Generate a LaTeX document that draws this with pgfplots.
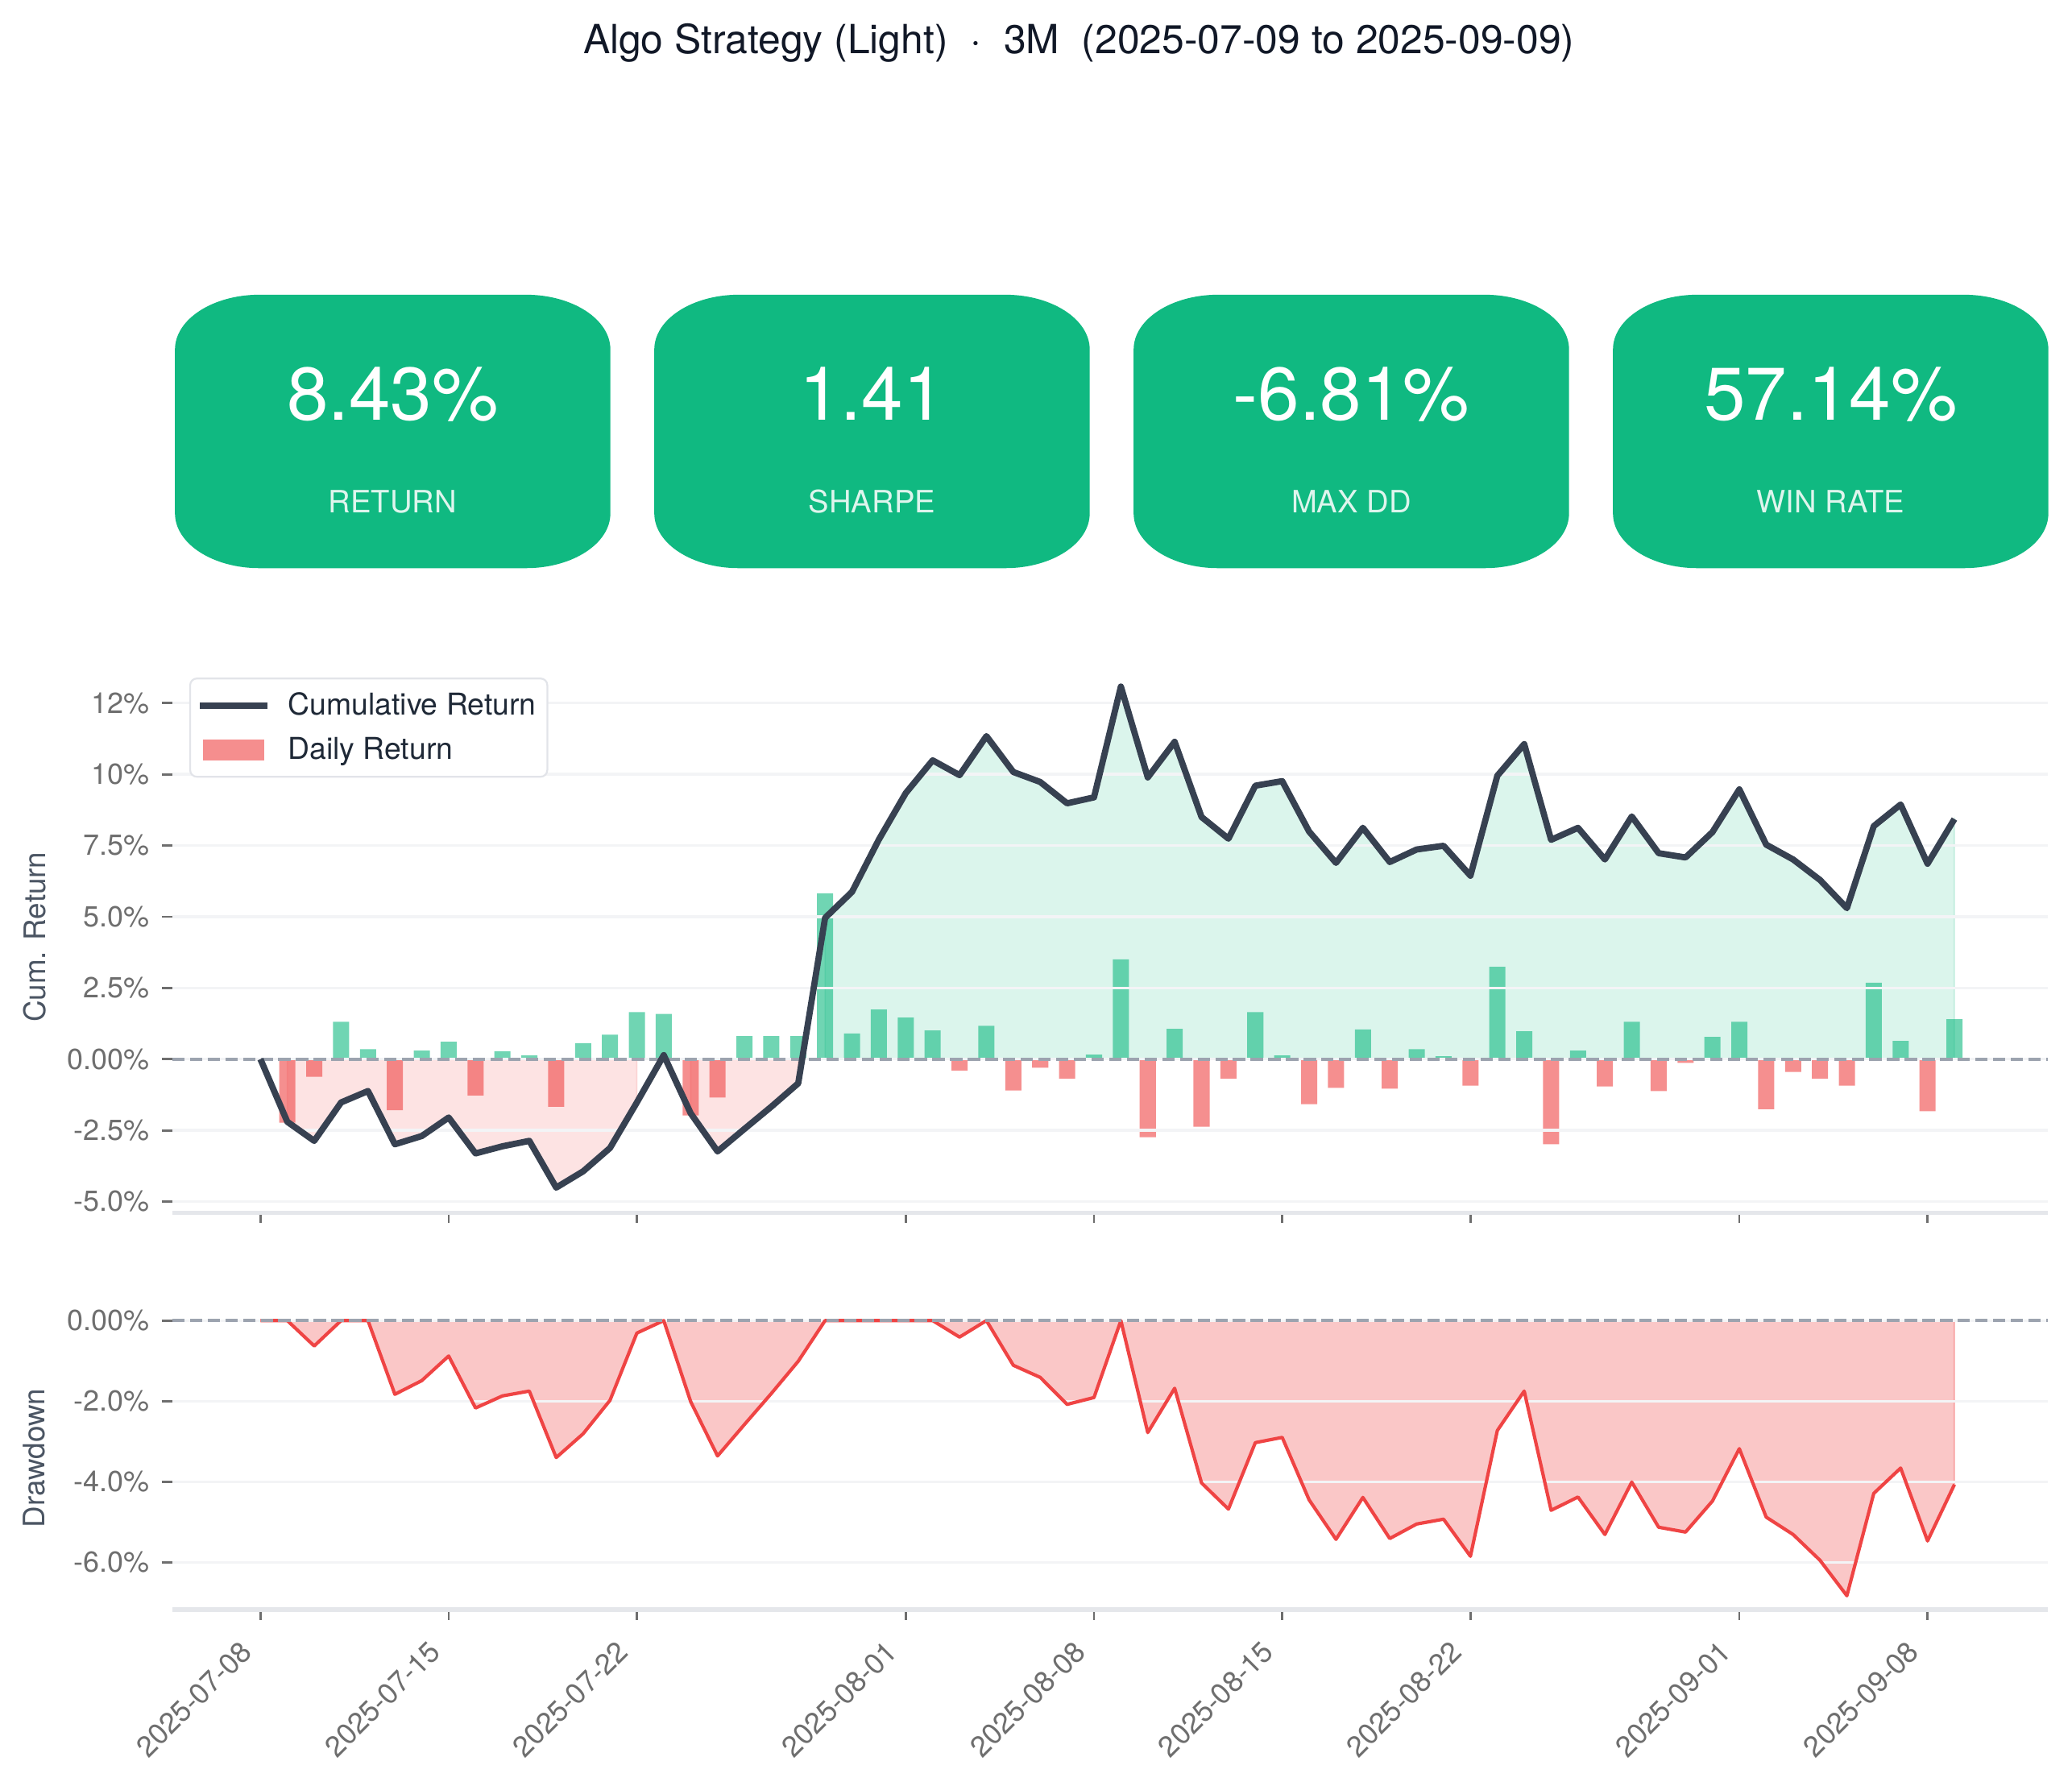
\documentclass[border=0pt]{standalone}
\usepackage{pgfplots}
\pgfplotsset{compat=1.18}
\usepackage{fontspec}
\setmainfont{TeX Gyre Heros}
\setsansfont{TeX Gyre Heros}

\definecolor{kpi}{RGB}{16,185,129}
\definecolor{linedark}{RGB}{55,65,81}
\definecolor{redc}{RGB}{239,68,68}
\definecolor{zeroc}{RGB}{156,163,175}
\definecolor{gridc}{RGB}{243,244,246}
\definecolor{spinec}{RGB}{229,231,235}
\definecolor{tickc}{RGB}{110,110,110}
\definecolor{labc}{RGB}{75,85,99}
\definecolor{titlec}{RGB}{17,24,39}
\definecolor{legtext}{RGB}{31,41,55}
\definecolor{legc}{RGB}{226,228,233}

\pgfplotsset{
  cumlegend/.style={legend image code/.code={\draw[linedark, line width=2.8bp, sharp corners] (0bp,0bp) -- (30bp,0bp);}},
  barlegend/.style={legend image code/.code={\fill[redc, fill opacity=0.6, draw=none, sharp corners] (1.4bp,-4.6bp) rectangle (28.6bp,4.6bp);}},
  commonaxis/.style={
    scale only axis, width=838.1bp,
    xmin=-3.28, xmax=66.47,
    axis line style={draw=none},
    xtick={0,7,14,24,31,38,45,55,62},
    xtick pos=left, ytick pos=left,
    tick align=outside,
    major tick length=4.7bp,
    tick style={draw=tickc, line width=1bp},
    ticklabel style={font=\fontsize{13}{15.6}\selectfont, text=tickc},
    yticklabel style={inner sep=0pt, xshift=-5.2bp},
    every axis y label/.style={at={(rel axis cs:-0.0735,0.5)}, anchor=center, rotate=90,
      font=\fontsize{13.3}{16}\selectfont, text=labc},
    no markers,
  },
}

\newcommand{\kpibox}[3]{%
  \begin{scope}[x=1bp,y=1bp]
  \pgfmathsetmacro{\La}{#1}
  \pgfmathsetmacro{\Lb}{#1+37.8}
  \pgfmathsetmacro{\Ra}{#1+194.58}
  \pgfmathsetmacro{\Rb}{#1+194.58-37.8}
  \fill[kpi] (\Lb,-131.7) -- (\Rb,-131.7)
    arc[start angle=90,end angle=0,x radius=37.8,y radius=24.5]
    -- (\Ra,-229.4)
    arc[start angle=0,end angle=-90,x radius=37.8,y radius=24.5]
    -- (\Lb,-253.9)
    arc[start angle=-90,end angle=-180,x radius=37.8,y radius=24.5]
    -- (\La,-156.2)
    arc[start angle=180,end angle=90,x radius=37.8,y radius=24.5]
    -- cycle;
  \pgfmathsetmacro{\Cx}{#1+97.29}
  \node[anchor=base, inner sep=0pt, text=white, font=\fontsize{33.5}{40}\selectfont] at (\Cx,-187.7) {#2};
  \node[anchor=base, inner sep=0pt, text=white!86!kpi, font=\fontsize{13.8}{16.5}\selectfont] at (\Cx,-229.0) {#3};
  \end{scope}%
}

\begin{document}
\begin{tikzpicture}
\useasboundingbox (0,0) rectangle (925.92bp,-798.12bp);

% title
\node[anchor=base, inner sep=0pt, text=titlec, font=\fontsize{18}{21.6}\selectfont]
  at (482.1bp,-23.8bp) {Algo Strategy (Light)\ \ ·\ \ 3M\ \ (2025-07-09 to 2025-09-09)};

% KPI boxes
\kpibox{78.19}{8.43\%}{RETURN}
\kpibox{292.39}{1.41}{SHARPE}
\kpibox{506.59}{-6.81\%}{MAX DD}
\kpibox{720.79}{57.14\%}{WIN RATE}

% ---------------- upper axis ----------------
\begin{axis}[commonaxis,
  name=upper,
  at={(76.97bp,-541.9bp)}, anchor=south west,
  height=246.3bp,
  ymin=-5.39, ymax=13.96,
  xticklabels={},
  ytick={-5,-2.5,0,2.5,5,7.5,10,12.5},
  yticklabels={-5.0\%,-2.5\%,0.00\%,2.5\%,5.0\%,7.5\%,10\%,12\%},
  ylabel={Cum. Return},
  legend cell align=left,
  legend style={at={(0,1)}, anchor=north west, xshift=7.6bp, yshift=-7.2bp,
    draw=legc, line width=0.8bp, rounded corners=3bp, fill=white,
    font=\fontsize{13.5}{16}\selectfont, text=legtext,
    inner xsep=3bp, inner ysep=4.3bp, row sep=4.5bp,
    /tikz/every even column/.append style={column sep=0bp},
    /tikz/every odd column/.append style={column sep=6bp}},
]
\addlegendimage{cumlegend}
\addlegendentry{Cumulative Return}
\addlegendimage{barlegend}
\addlegendentry{Daily Return}

% fills
\addplot[forget plot, fill=redc, fill opacity=0.15, draw=redc, draw opacity=0.15, line width=0.6bp]
coordinates {(1,0) (1,-2.20) (2,-2.87) (3,-1.52) (4,-1.12) (5,-2.99) (6,-2.70) (7,-2.05)
 (8,-3.31) (9,-3.06) (10,-2.87) (11,-4.51) (12,-3.94) (13,-3.12) (14,-1.52) (14,0)};
\addplot[forget plot, fill=redc, fill opacity=0.15, draw=redc, draw opacity=0.15, line width=0.6bp]
coordinates {(16,0) (16,-1.90) (17,-3.24) (18,-2.45) (19,-1.67) (20,-0.85) (20,0)};
\addplot[forget plot, fill=kpi, fill opacity=0.15, draw=kpi, draw opacity=0.15, line width=0.6bp]
coordinates {(21,0) (21,4.96) (22,5.87) (23,7.71) (24,9.34) (25,10.49) (26,9.97) (27,11.34)
 (28,10.08) (29,9.73) (30,8.98) (31,9.19) (32,13.08) (33,9.89) (34,11.14) (35,8.50)
 (36,7.74) (37,9.60) (38,9.76) (39,7.99) (40,6.89) (41,8.12) (42,6.92) (43,7.36)
 (44,7.49) (45,6.44) (46,9.95) (47,11.06) (48,7.70) (49,8.12) (50,7.01) (51,8.52)
 (52,7.23) (53,7.08) (54,7.97) (55,9.47) (56,7.53) (57,7.01) (58,6.29) (59,5.30)
 (60,8.18) (61,8.94) (62,6.86) (63,8.43) (63,0)};

% daily return bars
\addplot[forget plot, ybar, bar width=0.6, bar shift=0pt, fill=kpi, fill opacity=0.6, draw=none]
coordinates {(3,1.31) (4,0.35) (6,0.30) (7,0.61) (9,0.28) (10,0.13) (12,0.56) (13,0.86)
 (14,1.65) (15,1.59) (18,0.81) (19,0.81) (20,0.81) (21,5.82) (22,0.90) (23,1.74)
 (24,1.46) (25,1.01) (27,1.17) (31,0.16) (32,3.50) (34,1.06) (37,1.65) (38,0.13)
 (41,1.04) (43,0.35) (44,0.10) (46,3.24) (47,0.98) (49,0.30) (51,1.31) (54,0.78)
 (55,1.31) (60,2.68) (61,0.64) (63,1.40)};
\addplot[forget plot, ybar, bar width=0.6, bar shift=0pt, fill=redc, fill opacity=0.6, draw=none]
coordinates {(1,-2.23) (2,-0.62) (5,-1.79) (8,-1.28) (11,-1.67) (16,-1.98) (17,-1.35)
 (26,-0.40) (28,-1.10) (29,-0.30) (30,-0.68) (33,-2.74) (35,-2.37) (36,-0.68)
 (39,-1.58) (40,-1.01) (42,-1.04) (45,-0.93) (48,-2.99) (50,-0.96) (52,-1.12)
 (53,-0.13) (56,-1.76) (57,-0.45) (58,-0.68) (59,-0.93) (62,-1.83)};

% grid
\pgfplotsinvokeforeach{-5,-2.5,0,2.5,5,7.5,10,12.5}{
  \addplot[forget plot, gridc, line width=1.2bp] coordinates {(-3.28,#1) (66.47,#1)};
}
% zero line
\addplot[forget plot, zeroc, line width=1.5bp, dash pattern=on 5.5bp off 2.4bp]
  coordinates {(-3.28,0) (66.47,0)};

% cumulative return
\addplot[forget plot, linedark, line width=2.8bp, line join=round]
coordinates {(0,0) (1,-2.20) (2,-2.87) (3,-1.52) (4,-1.12) (5,-2.99) (6,-2.70) (7,-2.05)
 (8,-3.31) (9,-3.06) (10,-2.87) (11,-4.51) (12,-3.94) (13,-3.12) (14,-1.52) (15,0.14)
 (16,-1.90) (17,-3.24) (18,-2.45) (19,-1.67) (20,-0.85) (21,4.96) (22,5.87) (23,7.71)
 (24,9.34) (25,10.49) (26,9.97) (27,11.34) (28,10.08) (29,9.73) (30,8.98) (31,9.19)
 (32,13.08) (33,9.89) (34,11.14) (35,8.50) (36,7.74) (37,9.60) (38,9.76) (39,7.99)
 (40,6.89) (41,8.12) (42,6.92) (43,7.36) (44,7.49) (45,6.44) (46,9.95) (47,11.06)
 (48,7.70) (49,8.12) (50,7.01) (51,8.52) (52,7.23) (53,7.08) (54,7.97) (55,9.47)
 (56,7.53) (57,7.01) (58,6.29) (59,5.30) (60,8.18) (61,8.94) (62,6.86) (63,8.43)};
\end{axis}
\draw[spinec, line width=2bp] (upper.south west) -- (upper.south east);

% ---------------- drawdown axis ----------------
\begin{axis}[commonaxis,
  name=lower,
  at={(76.97bp,-719.2bp)}, anchor=south west,
  height=135.2bp,
  ymin=-7.17, ymax=0.34,
  xticklabels={2025-07-08,2025-07-15,2025-07-22,2025-08-01,2025-08-08,2025-08-15,2025-08-22,2025-09-01,2025-09-08},
  xticklabel style={xshift=-9.6bp, rotate=45, anchor=north east, inner sep=0pt},
  xticklabel shift=8.4bp,
  ytick={-6,-4,-2,0},
  yticklabels={-6.0\%,-4.0\%,-2.0\%,0.00\%},
  ylabel={Drawdown},
]
\addplot[forget plot, fill=redc, fill opacity=0.3, draw=redc, draw opacity=0.3, line width=0.6bp]
coordinates {(0,0) (1,0) (2,-0.63) (3,0) (4,0) (5,-1.83) (6,-1.49) (7,-0.88) (8,-2.17)
 (9,-1.87) (10,-1.75) (11,-3.40) (12,-2.81) (13,-1.98) (14,-0.31) (15,0) (16,-2.01)
 (17,-3.36) (18,-2.58) (19,-1.81) (20,-1.01) (21,0) (22,0) (23,0) (24,0) (25,0)
 (26,-0.41) (27,0) (28,-1.11) (29,-1.41) (30,-2.08) (31,-1.91) (32,0) (33,-2.78)
 (34,-1.68) (35,-4.03) (36,-4.68) (37,-3.03) (38,-2.90) (39,-4.45) (40,-5.43)
 (41,-4.39) (42,-5.41) (43,-5.05) (44,-4.93) (45,-5.85) (46,-2.73) (47,-1.75)
 (48,-4.71) (49,-4.38) (50,-5.31) (51,-4.01) (52,-5.13) (53,-5.25) (54,-4.48)
 (55,-3.18) (56,-4.88) (57,-5.31) (58,-5.95) (59,-6.83) (60,-4.29) (61,-3.66)
 (62,-5.47) (63,-4.07) (63,0)};
\pgfplotsinvokeforeach{-6,-4,-2,0}{
  \addplot[forget plot, gridc, line width=1.2bp] coordinates {(-3.28,#1) (66.47,#1)};
}
\addplot[forget plot, redc, line width=1.5bp, line join=round]
coordinates {(0,0) (1,0) (2,-0.63) (3,0) (4,0) (5,-1.83) (6,-1.49) (7,-0.88) (8,-2.17)
 (9,-1.87) (10,-1.75) (11,-3.40) (12,-2.81) (13,-1.98) (14,-0.31) (15,0) (16,-2.01)
 (17,-3.36) (18,-2.58) (19,-1.81) (20,-1.01) (21,0) (22,0) (23,0) (24,0) (25,0)
 (26,-0.41) (27,0) (28,-1.11) (29,-1.41) (30,-2.08) (31,-1.91) (32,0) (33,-2.78)
 (34,-1.68) (35,-4.03) (36,-4.68) (37,-3.03) (38,-2.90) (39,-4.45) (40,-5.43)
 (41,-4.39) (42,-5.41) (43,-5.05) (44,-4.93) (45,-5.85) (46,-2.73) (47,-1.75)
 (48,-4.71) (49,-4.38) (50,-5.31) (51,-4.01) (52,-5.13) (53,-5.25) (54,-4.48)
 (55,-3.18) (56,-4.88) (57,-5.31) (58,-5.95) (59,-6.83) (60,-4.29) (61,-3.66)
 (62,-5.47) (63,-4.07)};
\addplot[forget plot, zeroc, line width=1.5bp, dash pattern=on 5.5bp off 2.4bp]
  coordinates {(-3.28,0) (66.47,0)};
\end{axis}
\draw[spinec, line width=2bp] (lower.south west) -- (lower.south east);
\end{tikzpicture}
\end{document}
